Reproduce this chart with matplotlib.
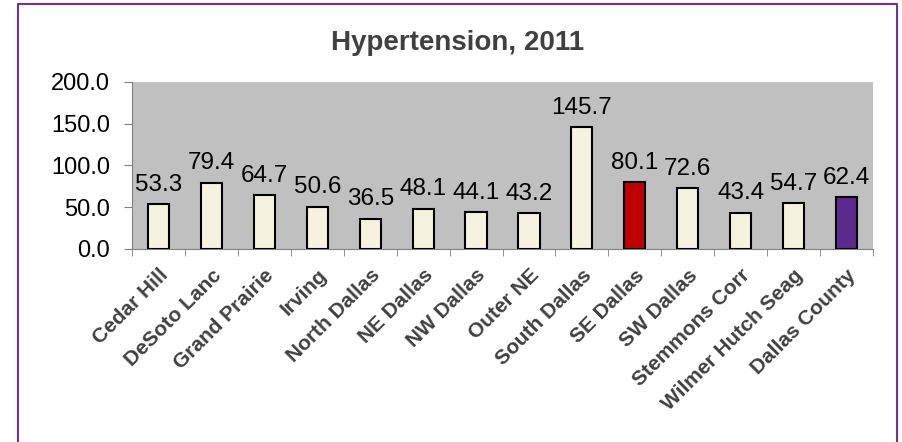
import matplotlib.pyplot as plt
from matplotlib.lines import Line2D

# === Hypertension rates by area, 2011 ===
areas = ['Cedar Hill', 'DeSoto Lanc', 'Grand Prairie', 'Irving', 'North Dallas',
         'NE Dallas', 'NW Dallas', 'Outer NE', 'South Dallas', 'SE Dallas',
         'SW Dallas', 'Stemmons Corr', 'Wilmer Hutch Seag', 'Dallas County']
rates = [53.3, 79.4, 64.7, 50.6, 36.5, 48.1, 44.1, 43.2, 145.7, 80.1,
         72.6, 43.4, 54.7, 62.4]
yticks = [0, 50, 100, 150, 200]

cream = '#F5F2E0'
highlight = {'SE Dallas': '#C00000', 'Dallas County': '#5B2A8C'}
colors = [highlight.get(a, cream) for a in areas]

plt.rcParams['font.family'] = ['Liberation Sans', 'DejaVu Sans']

fig = plt.figure(figsize=(9.03, 4.42), dpi=100)
ax = fig.add_axes([0.1462, 0.4367, 0.8206, 0.3778])

x = range(len(areas))
ax.bar(x, rates, width=0.4, color=colors, edgecolor='black', linewidth=1.5, zorder=3)

# === Data labels ===
for xi, v in zip(x, rates):
    ax.annotate(f'{v:.1f}', (xi, v), xytext=(0, 6), textcoords='offset points',
                ha='center', va='bottom', fontsize=17.5, color='black')

# === Axes formatting ===
ax.set_facecolor('#C0C0C0')
ax.set_xlim(-0.5, len(areas) - 0.5)
ax.set_ylim(0, 200)
ax.set_yticks(yticks)
ax.set_yticklabels([f'{t:.1f}' for t in yticks], fontsize=17)
ax.set_xticks(x)
ax.set_xticklabels(areas, rotation=45, ha='right', rotation_mode='anchor',
                   fontsize=15, fontweight='bold', color='#404040')
ax.tick_params(axis='x', length=0, pad=12)
ax.tick_params(axis='y', length=6, color='#808080', pad=10)
# category boundary ticks
ax.set_xticks([i - 0.5 for i in range(len(areas) + 1)], minor=True)
ax.tick_params(axis='x', which='minor', length=5, color='#808080')
for side in ['top', 'right']:
    ax.spines[side].set_visible(False)
for side in ['left', 'bottom']:
    ax.spines[side].set_color('#808080')

fig.text(0.507, 0.902, 'Hypertension, 2011', ha='center', va='center',
         fontsize=20, fontweight='bold', color='#404040')

# === Outer border (top, left, right) ===
bx0, bx1, by0, by1 = 0.0199, 0.9934, 0.0, 0.991
fig.lines.append(Line2D([bx0, bx0, bx1, bx1], [by0, by1, by1, by0], transform=fig.transFigure,
                        color='#7030A0', linewidth=1.5))

plt.savefig('out.png', dpi=100)
